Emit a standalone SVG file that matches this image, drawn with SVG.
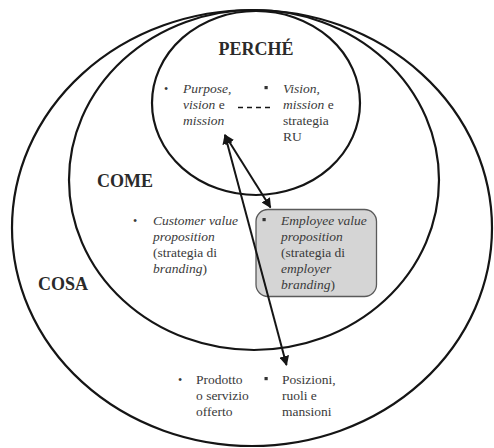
<svg xmlns="http://www.w3.org/2000/svg" width="494" height="448" viewBox="0 0 494 448">
  <style>
    .ring { fill: none; stroke: #151515; stroke-width: 2.2; }
    text { font-family: 'Liberation Serif', 'DejaVu Serif', serif; }
    .title { font-weight: bold; font-size: 18px; fill: #2a2a2a; }
    .txt { font-size: 13.5px; fill: #3a3a3a; }
    .it { font-style: italic; }
    .dot { font-size: 12px; fill: #3a3a3a; }
    .conn { stroke: #151515; stroke-width: 2; fill: none; }
  </style>
  <defs>
    <marker id="head" viewBox="0 0 10 10" refX="9" refY="5" markerWidth="5" markerHeight="5" orient="auto-start-reverse" markerUnits="strokeWidth">
      <path d="M0,0 L10,5 L0,10 z" fill="#151515"/>
    </marker>
  </defs>
  <rect width="494" height="448" fill="#ffffff"/>

  <g id="cosa">
    <ellipse class="ring" cx="252" cy="228" rx="240" ry="218"/>
    <text class="title" x="38" y="290">COSA</text>
    <text class="dot" x="178" y="384">•</text>
    <text class="txt" x="196" y="384">Prodotto</text>
    <text class="txt" x="196" y="400">o servizio</text>
    <text class="txt" x="196" y="416">offerto</text>
    <rect x="264.5" y="377" width="3.2" height="3.2" fill="#333"/>
    <text class="txt" x="282" y="384">Posizioni,</text>
    <text class="txt" x="282" y="400">ruoli e</text>
    <text class="txt" x="282" y="416">mansioni</text>
  </g>

  <g id="come">
    <ellipse class="ring" cx="254" cy="180" rx="185" ry="170"/>
    <text class="title" x="97" y="187">COME</text>
    <text class="dot" x="133" y="225">•</text>
    <text class="txt it" x="153" y="225">Customer value</text>
    <text class="txt it" x="153" y="241">proposition</text>
    <text class="txt" x="153" y="257">(strategia di</text>
    <text class="txt" x="153" y="273"><tspan class="it">branding</tspan>)</text>
  </g>

  <g id="evp">
    <rect x="256" y="209.5" width="120.5" height="87" rx="12" ry="12" fill="#d5d5d5" stroke="#5a5a5a" stroke-width="1.3"/>
    <rect x="262.5" y="218" width="3.2" height="3.2" fill="#333"/>
    <text class="txt it" x="281" y="225">Employee value</text>
    <text class="txt it" x="281" y="241">proposition</text>
    <text class="txt" x="281" y="257">(strategia di</text>
    <text class="txt it" x="281" y="273">employer</text>
    <text class="txt" x="281" y="289"><tspan class="it">branding</tspan>)</text>
  </g>

  <g id="perche">
    <ellipse class="ring" cx="256" cy="103" rx="104" ry="92"/>
    <text class="title" x="256" y="55" text-anchor="middle">PERCHÉ</text>
    <text class="dot" x="164" y="93">•</text>
    <text class="txt it" x="183" y="93">Purpose,</text>
    <text class="txt" x="183" y="109"><tspan class="it">vision</tspan> e</text>
    <text class="txt it" x="183" y="125">mission</text>
    <rect x="264.5" y="86" width="3.2" height="3.2" fill="#333"/>
    <text class="txt it" x="283" y="93">Vision,</text>
    <text class="txt" x="283" y="109"><tspan class="it">mission</tspan> e</text>
    <text class="txt" x="283" y="125">strategia</text>
    <text class="txt" x="283" y="141">RU</text>
  </g>

  <g id="connectors">
    <line x1="238" y1="107.5" x2="271" y2="107.5" stroke="#151515" stroke-width="1.5" stroke-dasharray="5,4"/>
    <line class="conn" x1="225" y1="135" x2="270.5" y2="207.5" marker-start="url(#head)" marker-end="url(#head)"/>
    <line class="conn" x1="225" y1="135" x2="286.5" y2="365" marker-start="url(#head)" marker-end="url(#head)"/>
  </g>
</svg>
